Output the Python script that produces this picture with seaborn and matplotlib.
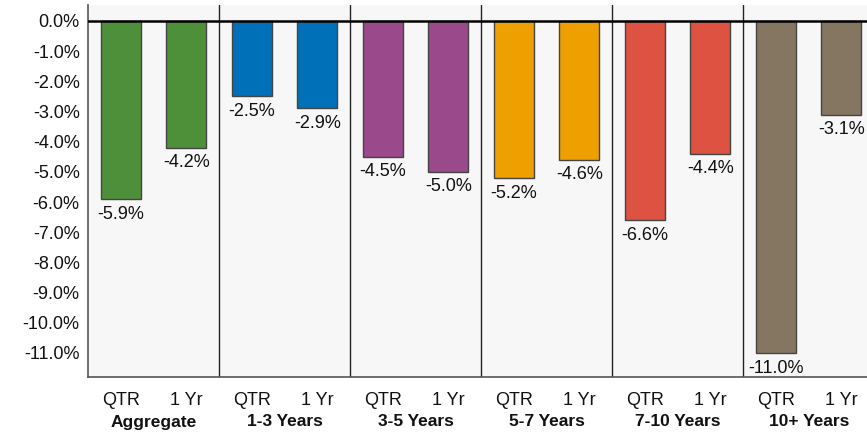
import matplotlib
matplotlib.use("Agg")
import matplotlib.pyplot as plt
import seaborn as sns
import pandas as pd
import numpy as np

groups = ["Aggregate", "1-3 Years", "3-5 Years", "5-7 Years", "7-10 Years", "10+ Years"]
periods = ["QTR", "1 Yr"]
qtr_returns = [-5.9, -2.5, -4.5, -5.2, -6.6, -11.0]
one_year_returns = [-4.2, -2.9, -5.0, -4.6, -4.4, -3.1]
group_colors = ["#4E8F3A", "#0070B8", "#9A4A8A", "#EDA000", "#DE5242", "#857662"]
y_ticks = np.arange(0, -12, -1)

rows = []
for g, q, y in zip(groups, qtr_returns, one_year_returns):
    rows.append({"slot": f"{g} QTR", "group": g, "period": "QTR", "value": q})
    rows.append({"slot": f"{g} 1 Yr", "group": g, "period": "1 Yr", "value": y})
df = pd.DataFrame(rows)
slot_colors = [c for c in group_colors for _ in periods]

sns.set_style("white")
plt.rcParams["font.family"] = ["Liberation Sans", "DejaVu Sans"]

fig = plt.figure(figsize=(8.67, 4.32), dpi=100)
ax = fig.add_axes([88 / 867, 1 - 377 / 432, 1 - 88 / 867, (377 - 5) / 432])
ax.set_facecolor("#F7F7F7")

sns.barplot(data=df, x="slot", y="value", hue="slot", palette=slot_colors,
            order=df["slot"], legend=False, width=0.61, ax=ax, saturation=1,
            edgecolor="#444444", linewidth=1.0)

# value labels beneath each bar end
for i, v in enumerate(df["value"]):
    ax.text(i, v - 0.22, f"{v:.1f}%", ha="center", va="top", fontsize=13, color="#111111")

ax.axhline(0, color="black", lw=1.8, zorder=5)
for k in range(1, len(groups)):
    ax.axvline(2 * k - 0.5, color="#222222", lw=1.0, zorder=1)

ax.set_xlim(-0.5, 11.39)
ax.set_ylim(-11.8, 0.53)
ax.set_yticks(y_ticks)
ax.set_yticklabels([f"{t:.1f}%" for t in y_ticks], fontsize=13, color="#111111")
ax.set_xticks(range(len(df)))
ax.set_xticklabels([p for _ in groups for p in periods], fontsize=13, color="#111111")
ax.tick_params(axis="x", direction="out", length=6, width=1.2, color="#555555", pad=5)
ax.tick_params(axis="y", direction="out", length=6, width=1.0, color="#555555", pad=0)

for k, g in enumerate(groups):
    ax.text(2 * k + 0.5, -45 / 372, g, transform=ax.get_xaxis_transform(),
            ha="center", va="center", fontsize=12.5, fontweight="bold", color="#111111")

for s in ["top", "right"]:
    ax.spines[s].set_visible(False)
for s in ["left", "bottom"]:
    ax.spines[s].set_color("#555555")
    ax.spines[s].set_linewidth(1.2)
ax.set_xlabel("")
ax.set_ylabel("")

fig.savefig("out.png", dpi=100)
